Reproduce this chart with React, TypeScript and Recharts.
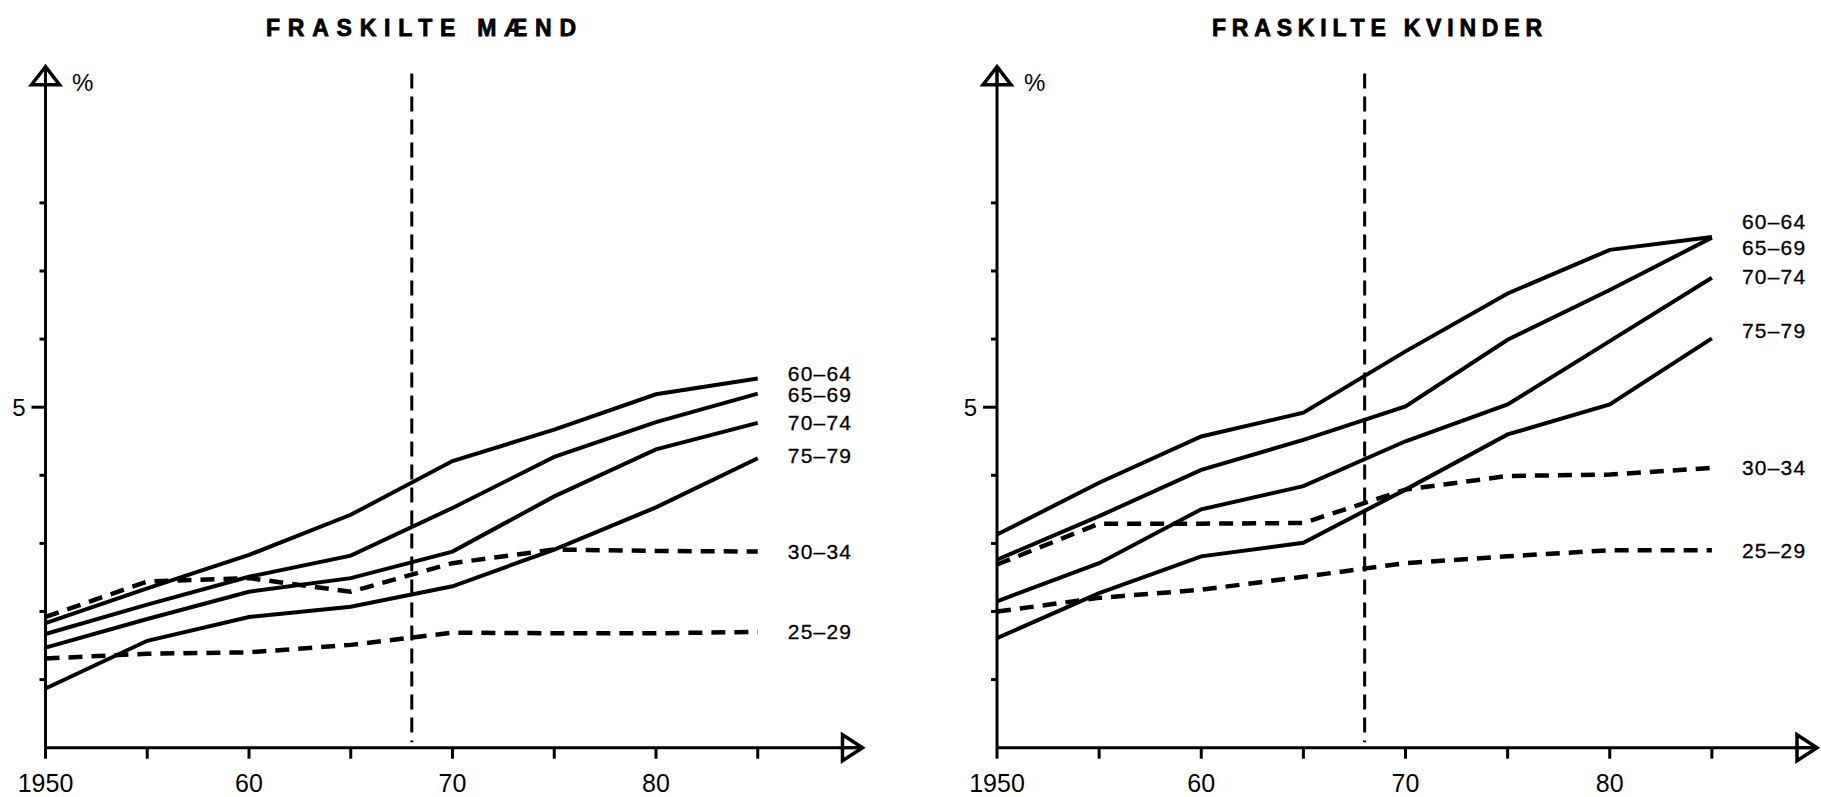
import React from 'react'
import { LineChart, Line, XAxis, YAxis, ReferenceLine, ReferenceDot } from 'recharts'

// years on the x axis
const years = [1950, 1955, 1960, 1965, 1970, 1975, 1980, 1985]
const xTicks = [1950, 1955, 1960, 1965, 1970, 1975, 1980, 1985]
const xTickLabels: Record<number, string> = { 1950: '1950', 1960: '60', 1970: '70', 1980: '80' }
const yTicks = [1, 2, 3, 4, 5, 6, 7, 8]
const yTickLabels: Record<number, string> = { 5: '5' }
const ageGroups = ['60–64', '65–69', '70–74', '75–79', '30–34', '25–29']

// fraskilte mænd, % of age group
const men6064 = [1.83, 2.34, 2.83, 3.42, 4.21, 4.67, 5.19, 5.42]
const men6569 = [1.67, 2.1, 2.51, 2.82, 3.52, 4.27, 4.78, 5.2]
const men7074 = [1.47, 1.89, 2.29, 2.49, 2.88, 3.69, 4.38, 4.77]
const men7579 = [0.87, 1.57, 1.92, 2.07, 2.37, 2.91, 3.53, 4.25]
const men3034 = [1.92, 2.44, 2.49, 2.29, 2.71, 2.91, 2.89, 2.88]
const men2529 = [1.31, 1.38, 1.4, 1.51, 1.69, 1.68, 1.68, 1.7]

// fraskilte kvinder, % of age group
const women6064 = [3.13, 3.89, 4.57, 4.92, 5.82, 6.67, 7.31, 7.5]
const women6569 = [2.76, 3.4, 4.08, 4.52, 5.01, 5.99, 6.72, 7.49]
const women7074 = [2.15, 2.71, 3.5, 3.84, 4.5, 5.04, 5.97, 6.9]
const women7579 = [1.61, 2.27, 2.81, 3.01, 3.79, 4.6, 5.04, 6.01]
const women3034 = [2.69, 3.29, 3.29, 3.3, 3.79, 3.99, 4.01, 4.11]
const women2529 = [2.0, 2.2, 2.32, 2.51, 2.71, 2.81, 2.9, 2.9]

const FONT = '"Liberation Sans", Arial, Helvetica, sans-serif'
const KEYS = ['s0', 's1', 's2', 's3', 's4', 's5']
const DASHED = [false, false, false, false, true, true]

const buildRows = (series: number[][]) =>
  years.map((year, i) => {
    const row: any = { year }
    series.forEach((s, k) => (row[KEYS[k]] = s[i]))
    return row
  })

const YTick = ({ x, y, payload }: any) => {
  const label = yTickLabels[payload.value]
  return (
    <g>
      <line x1={x - (label ? 14 : 6)} x2={x} y1={y} y2={y} stroke="#000" strokeWidth={3} />
      {label && (
        <text x={x - 20} y={y + 8.5} textAnchor="end" fontSize={24} fontFamily={FONT} fill="#000">
          {label}
        </text>
      )}
    </g>
  )
}

const XTick = ({ x, y, payload }: any) => {
  const label = xTickLabels[payload.value]
  return (
    <g>
      <line x1={x} x2={x} y1={y} y2={y + 11} stroke="#000" strokeWidth={3} />
      {label && (
        <text x={x} y={y + 44} textAnchor="middle" fontSize={25} fontFamily={FONT} fill="#000">
          {label}
        </text>
      )}
    </g>
  )
}

interface PanelProps {
  left: number
  width: number
  marginLeft: number
  marginRight: number
  series: number[][]
  labelDy: number[]
}

function Panel({ left, width, marginLeft, marginRight, series, labelDy }: PanelProps) {
  const rows = buildRows(series)
  return (
    <div style={{ position: 'absolute', left, top: 0 }}>
      <LineChart
        width={width}
        height={797}
        data={rows}
        margin={{ top: 66.7, bottom: 48.3, left: marginLeft, right: marginRight }}
      >
        <XAxis
          dataKey="year"
          type="number"
          domain={[1950, 1990]}
          ticks={xTicks}
          height={1}
          tickSize={0}
          tickMargin={0}
          tickLine={false}
          axisLine={{ stroke: '#000', strokeWidth: 3 }}
          tick={(p: any) => <XTick {...p} />}
          interval={0}
        />
        <YAxis
          type="number"
          domain={[0, 10]}
          ticks={yTicks}
          width={1}
          tickSize={0}
          tickMargin={0}
          tickLine={false}
          axisLine={{ stroke: '#000', strokeWidth: 3 }}
          tick={(p: any) => <YTick {...p} />}
          interval={0}
        />
        <ReferenceLine
          segment={[{ x: 1968, y: 9.9 }, { x: 1968, y: 0.08 }]}
          stroke="#000"
          strokeWidth={3}
          strokeDasharray="15 8"
        />
        {KEYS.map((k, i) => (
          <Line
            key={k}
            dataKey={k}
            type="linear"
            stroke="#000"
            strokeWidth={DASHED[i] ? 4.5 : 4}
            strokeDasharray={DASHED[i] ? '14 9' : undefined}
            dot={false}
            activeDot={false}
            isAnimationActive={false}
          />
        ))}
        {/* y axis arrow head */}
        <ReferenceDot
          x={1950}
          y={10}
          r={0}
          ifOverflow="visible"
          shape={(p: any) => (
            <g>
              <line x1={p.cx} x2={p.cx} y1={p.cy} y2={p.cy + 20} stroke="#000" strokeWidth={3} />
              <path
                d={`M${p.cx},${p.cy} L${p.cx - 14},${p.cy + 18} L${p.cx + 14},${p.cy + 18} Z`}
                fill="none"
                stroke="#000"
                strokeWidth={3.5}
              />
            </g>
          )}
        />
        {/* x axis arrow head */}
        <ReferenceDot
          x={1990}
          y={0}
          r={0}
          ifOverflow="visible"
          shape={(p: any) => (
            <g>
              <line x1={p.cx - 20} x2={p.cx + 3} y1={p.cy} y2={p.cy} stroke="#000" strokeWidth={3} />
              <path
                d={`M${p.cx + 3},${p.cy} L${p.cx - 17},${p.cy - 13} L${p.cx - 17},${p.cy + 13} Z`}
                fill="none"
                stroke="#000"
                strokeWidth={3.5}
              />
            </g>
          )}
        />
        {/* end-of-line age group labels */}
        {KEYS.map((k, i) => (
          <ReferenceDot
            key={`lab-${k}`}
            x={1985}
            y={series[i][series[i].length - 1]}
            r={0}
            ifOverflow="visible"
            shape={(p: any) => (
              <text
                x={p.cx + 30}
                y={p.cy + labelDy[i] + 7.5}
                fontSize={21}
                letterSpacing={1.2}
                fontFamily={FONT}
                fill="#000"
                stroke="#000"
                strokeWidth={0.3}
              >
                {ageGroups[i]}
              </text>
            )}
          />
        ))}
      </LineChart>
    </div>
  )
}

export default function App() {
  return (
    <div style={{ position: 'absolute', left: 0, top: 0, width: 1821, height: 797, background: '#fff' }}>
      <Panel
        left={0}
        width={910}
        marginLeft={44.5}
        marginRight={50.5}
        series={[men6064, men6569, men7074, men7579, men3034, men2529]}
        labelDy={[-5, 1, 0, -3, 0, 0]}
      />
      <Panel
        left={910}
        width={911}
        marginLeft={86}
        marginRight={7}
        series={[women6064, women6569, women7074, women7579, women3034, women2529]}
        labelDy={[-15, 10, -1, -8, 0, 0]}
      />
      <svg
        width={1821}
        height={797}
        style={{ position: 'absolute', left: 0, top: 0, pointerEvents: 'none' }}
      >
        <text x={266} y={36} fontSize={23} fontWeight="bold" fontFamily={FONT} textLength={310} lengthAdjust="spacing" stroke="#000" strokeWidth={0.8}>
          FRASKILTE MÆND
        </text>
        <text x={1212} y={36} fontSize={23} fontWeight="bold" fontFamily={FONT} textLength={330} lengthAdjust="spacing" stroke="#000" strokeWidth={0.8}>
          FRASKILTE KVINDER
        </text>
        <text x={72} y={91} fontSize={24} fontFamily={FONT}>
          %
        </text>
        <text x={1024} y={91} fontSize={24} fontFamily={FONT}>
          %
        </text>
      </svg>
    </div>
  )
}
